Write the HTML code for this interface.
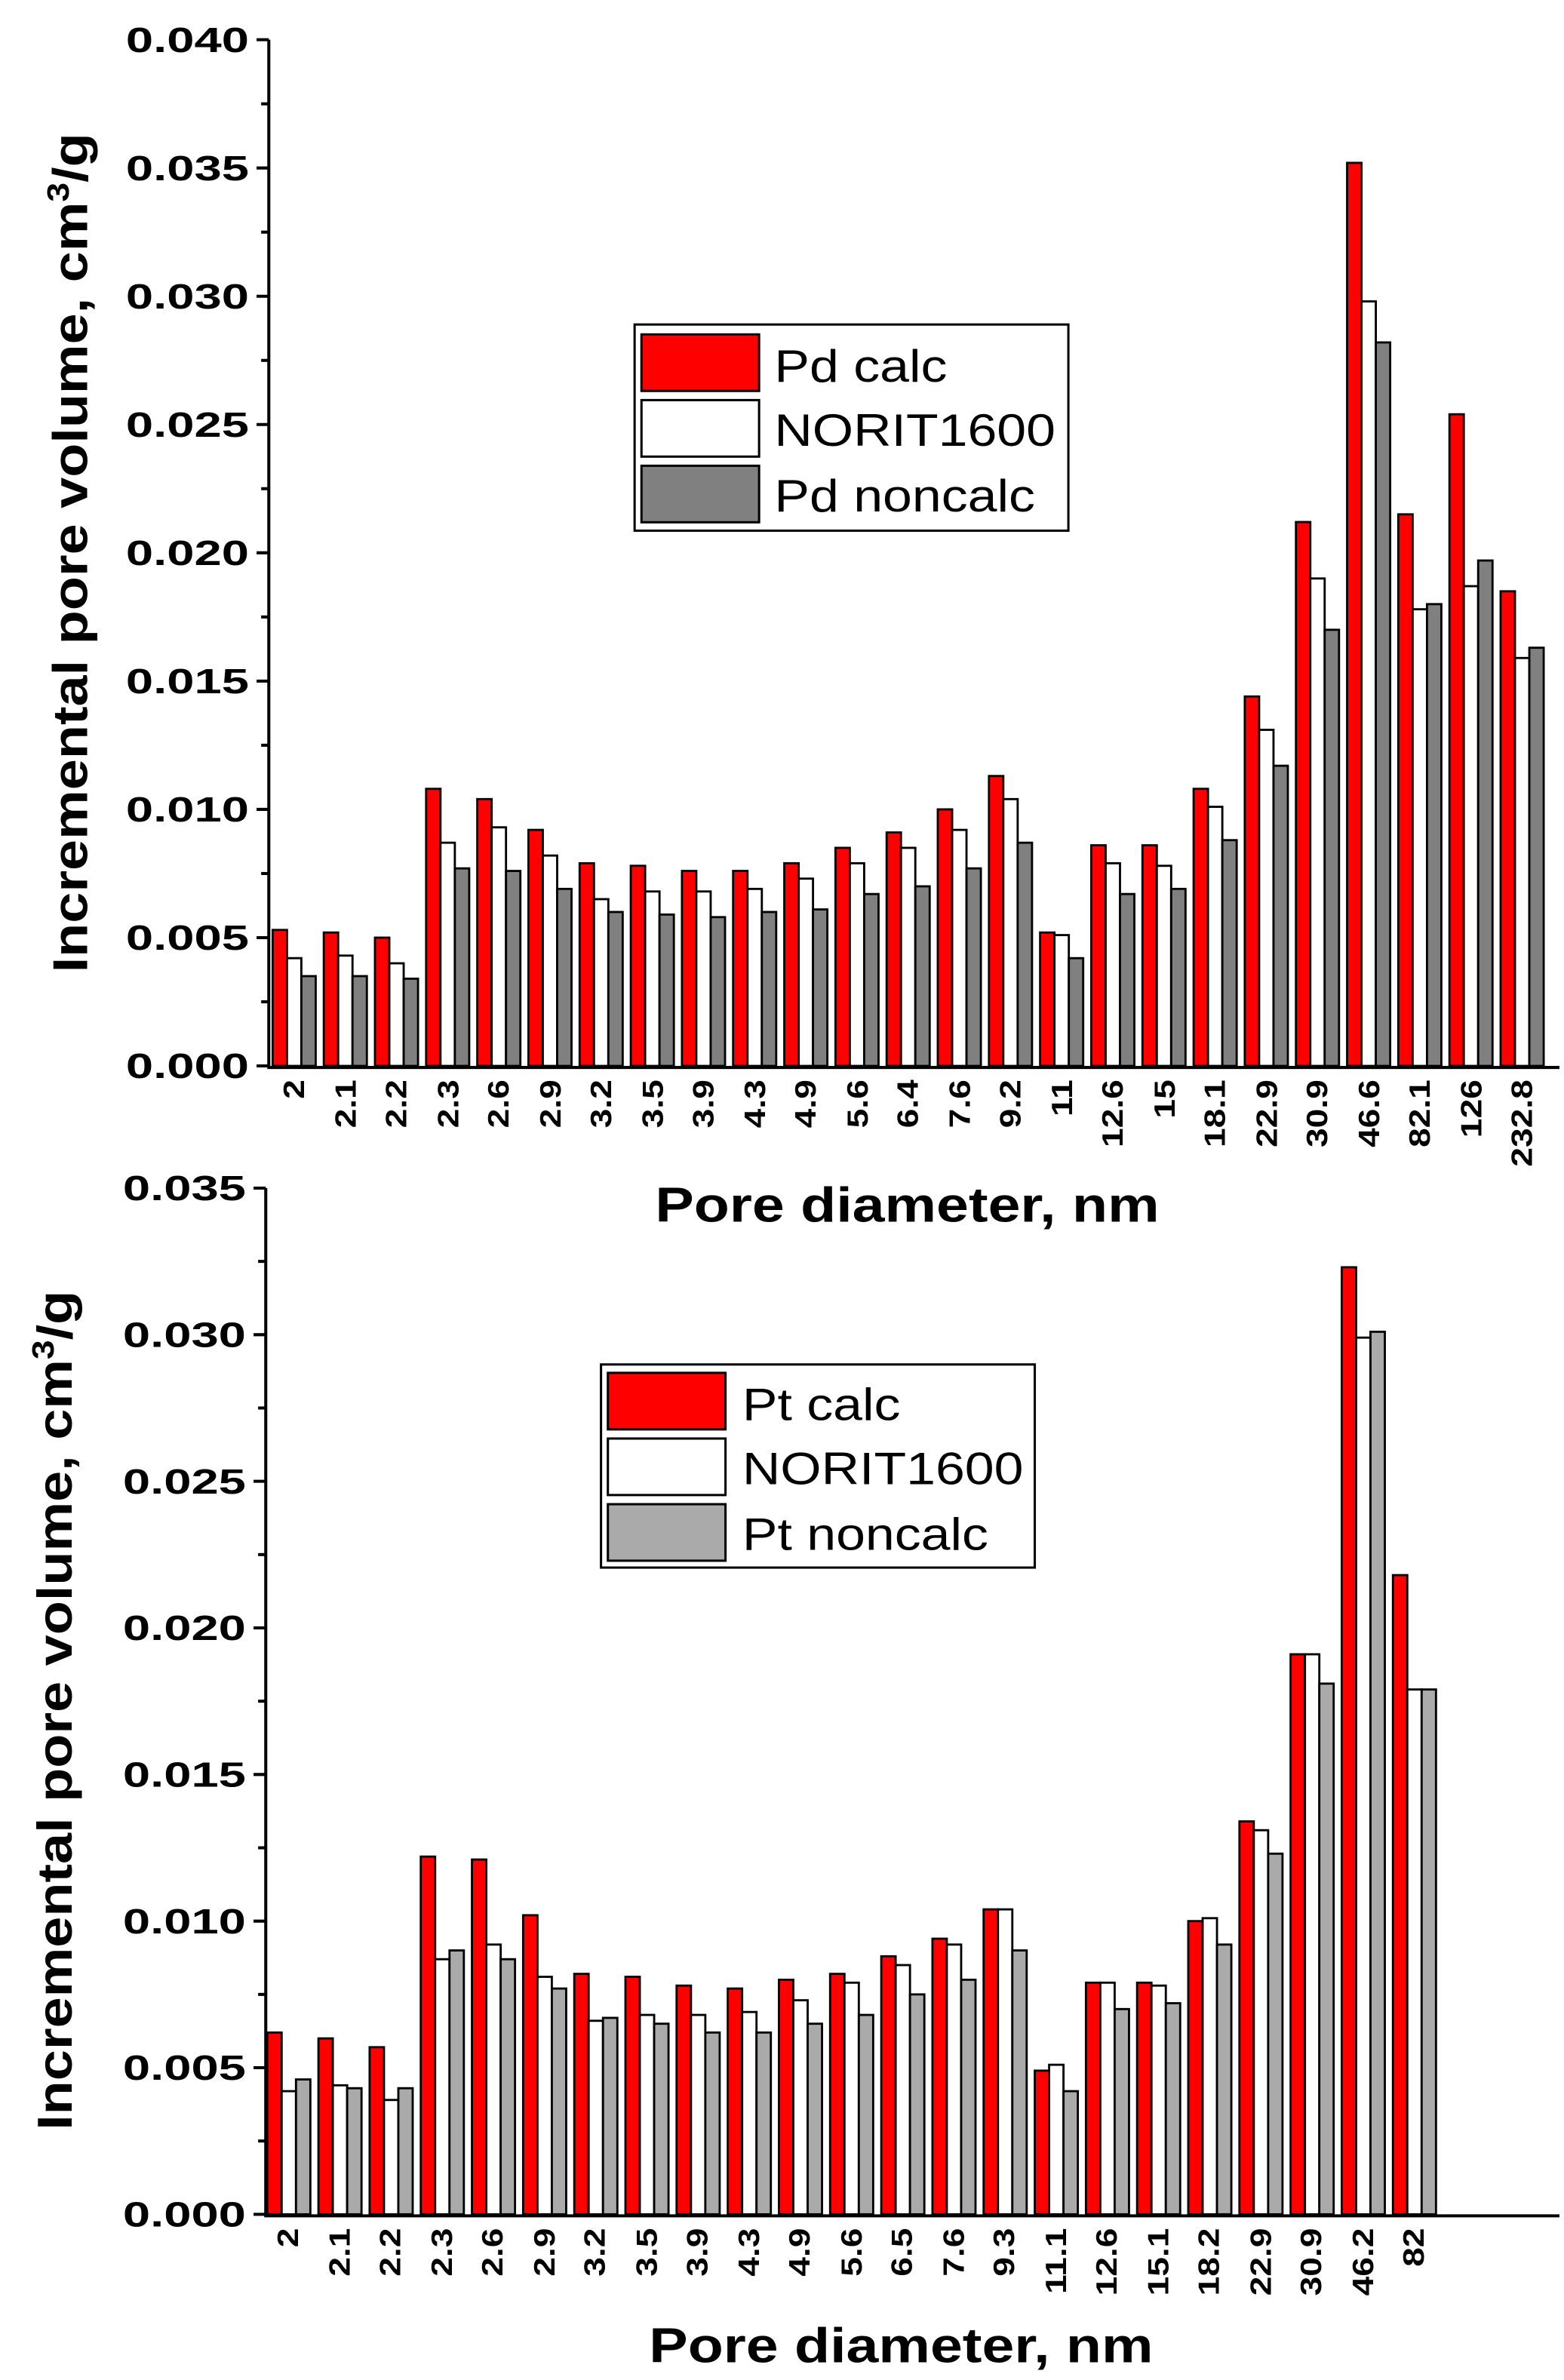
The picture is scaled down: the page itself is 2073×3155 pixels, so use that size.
<!DOCTYPE html>
<html><head><meta charset="utf-8"><style>
html,body{margin:0;padding:0;background:#fff;}
svg{display:block;}
text{font-family:"Liberation Sans",Arial,sans-serif;fill:#000;}
.yt{font-size:23px;font-weight:bold;text-anchor:end;}
.xt{font-size:19px;font-weight:bold;text-anchor:end;}
.ttl{font-size:32px;font-weight:bold;text-anchor:middle;}
.lg{font-size:30px;}
</style></head><body>
<svg id="s" width="2073" height="3155" viewBox="0 0 1024 1558.5" preserveAspectRatio="none" xmlns="http://www.w3.org/2000/svg">
<g id="bars"></g>
<g stroke="#000" stroke-width="2" fill="none">
<line x1="176" y1="26" x2="176" y2="699"/>
<line x1="175" y1="699" x2="1021" y2="699"/>
<line x1="168" y1="26" x2="176" y2="26"/><line x1="171" y1="68" x2="176" y2="68"/>
<line x1="168" y1="110" x2="176" y2="110"/><line x1="171" y1="152" x2="176" y2="152"/>
<line x1="168" y1="194" x2="176" y2="194"/><line x1="171" y1="236" x2="176" y2="236"/>
<line x1="168" y1="278" x2="176" y2="278"/><line x1="171" y1="320" x2="176" y2="320"/>
<line x1="168" y1="362" x2="176" y2="362"/><line x1="171" y1="404" x2="176" y2="404"/>
<line x1="168" y1="446" x2="176" y2="446"/><line x1="171" y1="488" x2="176" y2="488"/>
<line x1="168" y1="530" x2="176" y2="530"/><line x1="171" y1="572" x2="176" y2="572"/>
<line x1="168" y1="614" x2="176" y2="614"/><line x1="171" y1="656" x2="176" y2="656"/>
<line x1="168" y1="698" x2="176" y2="698"/>
</g>
<g class="yt">
<text transform="translate(163,34) scale(1.4,1)">0.040</text><text transform="translate(163,118) scale(1.4,1)">0.035</text><text transform="translate(163,202) scale(1.4,1)">0.030</text>
<text transform="translate(163,286) scale(1.4,1)">0.025</text><text transform="translate(163,370) scale(1.4,1)">0.020</text><text transform="translate(163,454) scale(1.4,1)">0.015</text>
<text transform="translate(163,538) scale(1.4,1)">0.010</text><text transform="translate(163,622) scale(1.4,1)">0.005</text><text transform="translate(163,706) scale(1.4,1)">0.000</text>
</g>
<text class="ttl" transform="translate(57,362) rotate(-90) scale(1.14,1)">Incremental pore volume, cm<tspan font-size="20" dy="-12">3</tspan><tspan dy="12">/g</tspan></text>
<text class="ttl" transform="translate(594,800) scale(1.19,1)">Pore diameter, nm</text>
<rect x="415.5" y="212.5" width="284" height="135" fill="#fff" stroke="#000" stroke-width="1.5"/>
<rect x="420" y="219" width="77" height="37" fill="#ff0000" stroke="#000" stroke-width="1.5"/>
<rect x="420" y="262" width="77" height="37" fill="#fff" stroke="#000" stroke-width="1.5"/>
<rect x="420" y="305" width="77" height="37" fill="#808080" stroke="#000" stroke-width="1.5"/>
<text class="lg" transform="translate(507,250) scale(1.15,1)">Pd calc</text>
<text class="lg" transform="translate(507,292) scale(1.15,1)">NORIT1600</text>
<text class="lg" transform="translate(507,335) scale(1.15,1)">Pd noncalc</text>

<g stroke="#000" stroke-width="2" fill="none">
<line x1="174" y1="778" x2="174" y2="1451"/>
<line x1="173" y1="1451" x2="1021" y2="1451"/>
<line x1="166" y1="778" x2="174" y2="778"/><line x1="169" y1="826" x2="174" y2="826"/>
<line x1="166" y1="874" x2="174" y2="874"/><line x1="169" y1="922" x2="174" y2="922"/>
<line x1="166" y1="970" x2="174" y2="970"/><line x1="169" y1="1018" x2="174" y2="1018"/>
<line x1="166" y1="1066" x2="174" y2="1066"/><line x1="169" y1="1114" x2="174" y2="1114"/>
<line x1="166" y1="1162" x2="174" y2="1162"/><line x1="169" y1="1210" x2="174" y2="1210"/>
<line x1="166" y1="1258" x2="174" y2="1258"/><line x1="169" y1="1306" x2="174" y2="1306"/>
<line x1="166" y1="1354" x2="174" y2="1354"/><line x1="169" y1="1402" x2="174" y2="1402"/>
<line x1="166" y1="1450" x2="174" y2="1450"/>
</g>
<g class="yt">
<text transform="translate(161,786) scale(1.4,1)">0.035</text><text transform="translate(161,882) scale(1.4,1)">0.030</text><text transform="translate(161,978) scale(1.4,1)">0.025</text>
<text transform="translate(161,1074) scale(1.4,1)">0.020</text><text transform="translate(161,1170) scale(1.4,1)">0.015</text><text transform="translate(161,1266) scale(1.4,1)">0.010</text>
<text transform="translate(161,1362) scale(1.4,1)">0.005</text><text transform="translate(161,1458) scale(1.4,1)">0.000</text>
</g>
<text class="ttl" transform="translate(47,1120) rotate(-90) scale(1.14,1)">Incremental pore volume, cm<tspan font-size="20" dy="-12">3</tspan><tspan dy="12">/g</tspan></text>
<text class="ttl" transform="translate(590,1547) scale(1.19,1)">Pore diameter, nm</text>
<rect x="393.5" y="893.5" width="284" height="133" fill="#fff" stroke="#000" stroke-width="1.5"/>
<rect x="398" y="899" width="77" height="37" fill="#ff0000" stroke="#000" stroke-width="1.5"/>
<rect x="398" y="942" width="77" height="37" fill="#fff" stroke="#000" stroke-width="1.5"/>
<rect x="398" y="985" width="77" height="37" fill="#aaaaaa" stroke="#000" stroke-width="1.5"/>
<text class="lg" transform="translate(486,930) scale(1.15,1)">Pt calc</text>
<text class="lg" transform="translate(486,972) scale(1.15,1)">NORIT1600</text>
<text class="lg" transform="translate(486,1015) scale(1.15,1)">Pt noncalc</text>

<g class="xt">
<text transform="translate(199,707) rotate(-90) scale(1.2,1)">2</text>
<text transform="translate(233,707) rotate(-90) scale(1.2,1)">2.1</text>
<text transform="translate(266,707) rotate(-90) scale(1.2,1)">2.2</text>
<text transform="translate(300,707) rotate(-90) scale(1.2,1)">2.3</text>
<text transform="translate(333,707) rotate(-90) scale(1.2,1)">2.6</text>
<text transform="translate(367,707) rotate(-90) scale(1.2,1)">2.9</text>
<text transform="translate(400,707) rotate(-90) scale(1.2,1)">3.2</text>
<text transform="translate(434,707) rotate(-90) scale(1.2,1)">3.5</text>
<text transform="translate(467,707) rotate(-90) scale(1.2,1)">3.9</text>
<text transform="translate(501,707) rotate(-90) scale(1.2,1)">4.3</text>
<text transform="translate(534,707) rotate(-90) scale(1.2,1)">4.9</text>
<text transform="translate(568,707) rotate(-90) scale(1.2,1)">5.6</text>
<text transform="translate(601,707) rotate(-90) scale(1.2,1)">6.4</text>
<text transform="translate(635,707) rotate(-90) scale(1.2,1)">7.6</text>
<text transform="translate(668,707) rotate(-90) scale(1.2,1)">9.2</text>
<text transform="translate(702,707) rotate(-90) scale(1.2,1)">11</text>
<text transform="translate(735,707) rotate(-90) scale(1.2,1)">12.6</text>
<text transform="translate(769,707) rotate(-90) scale(1.2,1)">15</text>
<text transform="translate(802,707) rotate(-90) scale(1.2,1)">18.1</text>
<text transform="translate(836,707) rotate(-90) scale(1.2,1)">22.9</text>
<text transform="translate(869,707) rotate(-90) scale(1.2,1)">30.9</text>
<text transform="translate(903,707) rotate(-90) scale(1.2,1)">46.6</text>
<text transform="translate(936,707) rotate(-90) scale(1.2,1)">82.1</text>
<text transform="translate(970,707) rotate(-90) scale(1.2,1)">126</text>
<text transform="translate(1003,707) rotate(-90) scale(1.2,1)">232.8</text>
</g>
<g class="xt">
<text transform="translate(195,1459) rotate(-90) scale(1.2,1)">2</text>
<text transform="translate(229,1459) rotate(-90) scale(1.2,1)">2.1</text>
<text transform="translate(262,1459) rotate(-90) scale(1.2,1)">2.2</text>
<text transform="translate(296,1459) rotate(-90) scale(1.2,1)">2.3</text>
<text transform="translate(329,1459) rotate(-90) scale(1.2,1)">2.6</text>
<text transform="translate(363,1459) rotate(-90) scale(1.2,1)">2.9</text>
<text transform="translate(396,1459) rotate(-90) scale(1.2,1)">3.2</text>
<text transform="translate(430,1459) rotate(-90) scale(1.2,1)">3.5</text>
<text transform="translate(463,1459) rotate(-90) scale(1.2,1)">3.9</text>
<text transform="translate(497,1459) rotate(-90) scale(1.2,1)">4.3</text>
<text transform="translate(530,1459) rotate(-90) scale(1.2,1)">4.9</text>
<text transform="translate(564,1459) rotate(-90) scale(1.2,1)">5.6</text>
<text transform="translate(597,1459) rotate(-90) scale(1.2,1)">6.5</text>
<text transform="translate(631,1459) rotate(-90) scale(1.2,1)">7.6</text>
<text transform="translate(664,1459) rotate(-90) scale(1.2,1)">9.3</text>
<text transform="translate(698,1459) rotate(-90) scale(1.2,1)">11.1</text>
<text transform="translate(731,1459) rotate(-90) scale(1.2,1)">12.6</text>
<text transform="translate(765,1459) rotate(-90) scale(1.2,1)">15.1</text>
<text transform="translate(798,1459) rotate(-90) scale(1.2,1)">18.2</text>
<text transform="translate(832,1459) rotate(-90) scale(1.2,1)">22.9</text>
<text transform="translate(865,1459) rotate(-90) scale(1.2,1)">30.9</text>
<text transform="translate(899,1459) rotate(-90) scale(1.2,1)">46.2</text>
<text transform="translate(932,1459) rotate(-90) scale(1.2,1)">82</text>
</g>
</svg>
<script>
(function(){
var NS="http://www.w3.org/2000/svg",g=document.getElementById("bars");
function draw(data,x0,step,y0,scale,cols){
  data.forEach(function(v,i){
    for(var k=0;k<3;k++){
      var h=v[k]*scale,r=document.createElementNS(NS,"rect");
      r.setAttribute("x",x0+step*i+k*9.4);r.setAttribute("y",y0-h);
      r.setAttribute("width",9.4);r.setAttribute("height",h);
      r.setAttribute("fill",cols[k]);r.setAttribute("stroke","#000");r.setAttribute("stroke-width","1.4");
      g.appendChild(r);
    }
  });
}
var top=[[.0053,.0042,.0035],[.0052,.0043,.0035],[.0050,.0040,.0034],[.0108,.0087,.0077],[.0104,.0093,.0076],[.0092,.0082,.0069],[.0079,.0065,.0060],[.0078,.0068,.0059],[.0076,.0068,.0058],[.0076,.0069,.0060],[.0079,.0073,.0061],[.0085,.0079,.0067],[.0091,.0085,.0070],[.0100,.0092,.0077],[.0113,.0104,.0087],[.0052,.0051,.0042],[.0086,.0079,.0067],[.0086,.0078,.0069],[.0108,.0101,.0088],[.0144,.0131,.0117],[.0212,.0190,.0170],[.0352,.0298,.0282],[.0215,.0178,.0180],[.0254,.0187,.0197],[.0185,.0159,.0163]];
var bot=[[.0062,.0042,.0046],[.0060,.0044,.0043],[.0057,.0039,.0043],[.0122,.0087,.0090],[.0121,.0092,.0087],[.0102,.0081,.0077],[.0082,.0066,.0067],[.0081,.0068,.0065],[.0078,.0068,.0062],[.0077,.0069,.0062],[.0080,.0073,.0065],[.0082,.0079,.0068],[.0088,.0085,.0075],[.0094,.0092,.0080],[.0104,.0104,.0090],[.0049,.0051,.0042],[.0079,.0079,.0070],[.0079,.0078,.0072],[.0100,.0101,.0092],[.0134,.0131,.0123],[.0191,.0191,.0181],[.0323,.0299,.0301],[.0218,.0179,.0179]];
draw(top,178.5,33.5,698,16800,["#ff0000","#ffffff","#808080"]);
draw(bot,175,33.5,1450,19200,["#ff0000","#ffffff","#aaaaaa"]);
})();
</script>
</body></html>
